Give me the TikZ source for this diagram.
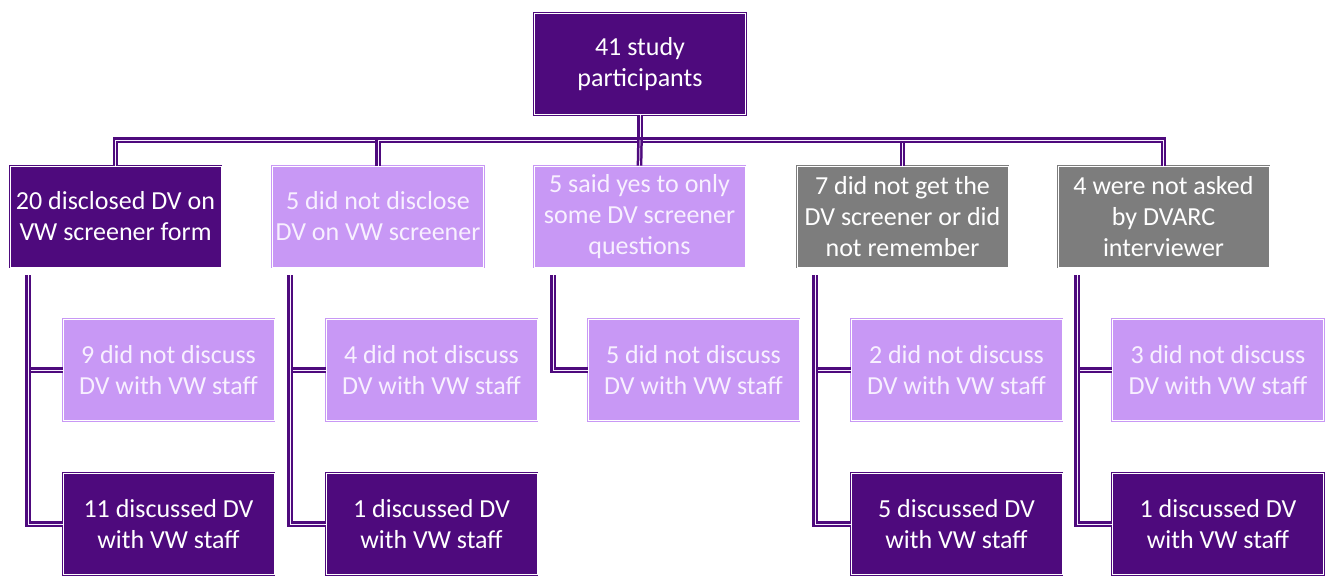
\documentclass[tikz,border=0pt]{standalone}
\usepackage{fontspec}
\setmainfont{Carlito}
\definecolor{dvdark}{RGB}{78,10,125}
\definecolor{dvlight}{RGB}{200,152,245}
\definecolor{dvgray}{RGB}{125,125,125}
\definecolor{dvpale}{RGB}{248,240,255}
\begin{document}
\begin{tikzpicture}[x=1pt, y=-1pt,
  box/.style={draw=#1, fill=#1, double=white, line width=0.7pt, double distance=0.7pt,
    minimum width=211pt, minimum height=101pt, inner sep=0pt, align=center,
    font=\fontsize{26}{31}\selectfont},
  darkbox/.style={box=dvdark, text=white},
  lightbox/.style={box=dvlight, text=dvpale},
  graybox/.style={box=dvgray, text=white},
  link/.style={draw=dvdark, line width=2.5pt, double=dvpale, double distance=0.7pt}]
\useasboundingbox (0,0) rectangle (1325,578);
\node[darkbox] (P_0_0) at (640,64) {41 study\\participants};
\node[darkbox] (P_1_0) at (115.5,216.5) {20 disclosed DV on\\VW screener form};
\node[lightbox] (P_1_1) at (378,216.5) {5 did not disclose\\DV on VW screener};
\node[lightbox] (P_1_2) at (639.5,216.5) {5 said yes to only\\some DV screener\\questions};
\node[graybox] (P_1_3) at (902.5,216.5) {7 did not get the\\DV screener or did\\not remember};
\node[graybox] (P_1_4) at (1163.5,216.5) {4 were not asked\\by DVARC\\interviewer};
\node[lightbox] (P_2_0) at (168.5,370) {9 did not discuss\\DV with VW staff};
\node[lightbox] (P_2_1) at (431.5,370) {4 did not discuss\\DV with VW staff};
\node[lightbox] (P_2_2) at (693.5,370) {5 did not discuss\\DV with VW staff};
\node[lightbox] (P_2_3) at (956.5,370) {2 did not discuss\\DV with VW staff};
\node[lightbox] (P_2_4) at (1218,370) {3 did not discuss\\DV with VW staff};
\node[darkbox] (P_3_0) at (168.5,524) {11 discussed DV\\with VW staff};
\node[darkbox] (P_3_1) at (431.5,524) {1 discussed DV\\with VW staff};
\node[darkbox] (P_3_3) at (956.5,524) {5 discussed DV\\with VW staff};
\node[darkbox] (P_3_4) at (1218,524) {1 discussed DV\\with VW staff};
% bus below the top box
\coordinate (B) at (640,140);
\draw[link] (P_0_0) -- (B);
\foreach \c in {0,1,3,4} \draw[link] (P_1_\c.north) |- (B);
\draw[link] (P_1_2.north) -- (B);
% trunks below the first row
\foreach \c/\tx in {0/28,1/290,2/553,3/815,4/1077}
  \coordinate (T_\c) at (\tx,275);
\foreach \c in {0,1,2,3,4} \draw[link] (T_\c) |- (P_2_\c.west);
\foreach \c in {0,1,3,4} \draw[link] (T_\c) |- (P_3_\c.west);
\end{tikzpicture}
\end{document}
